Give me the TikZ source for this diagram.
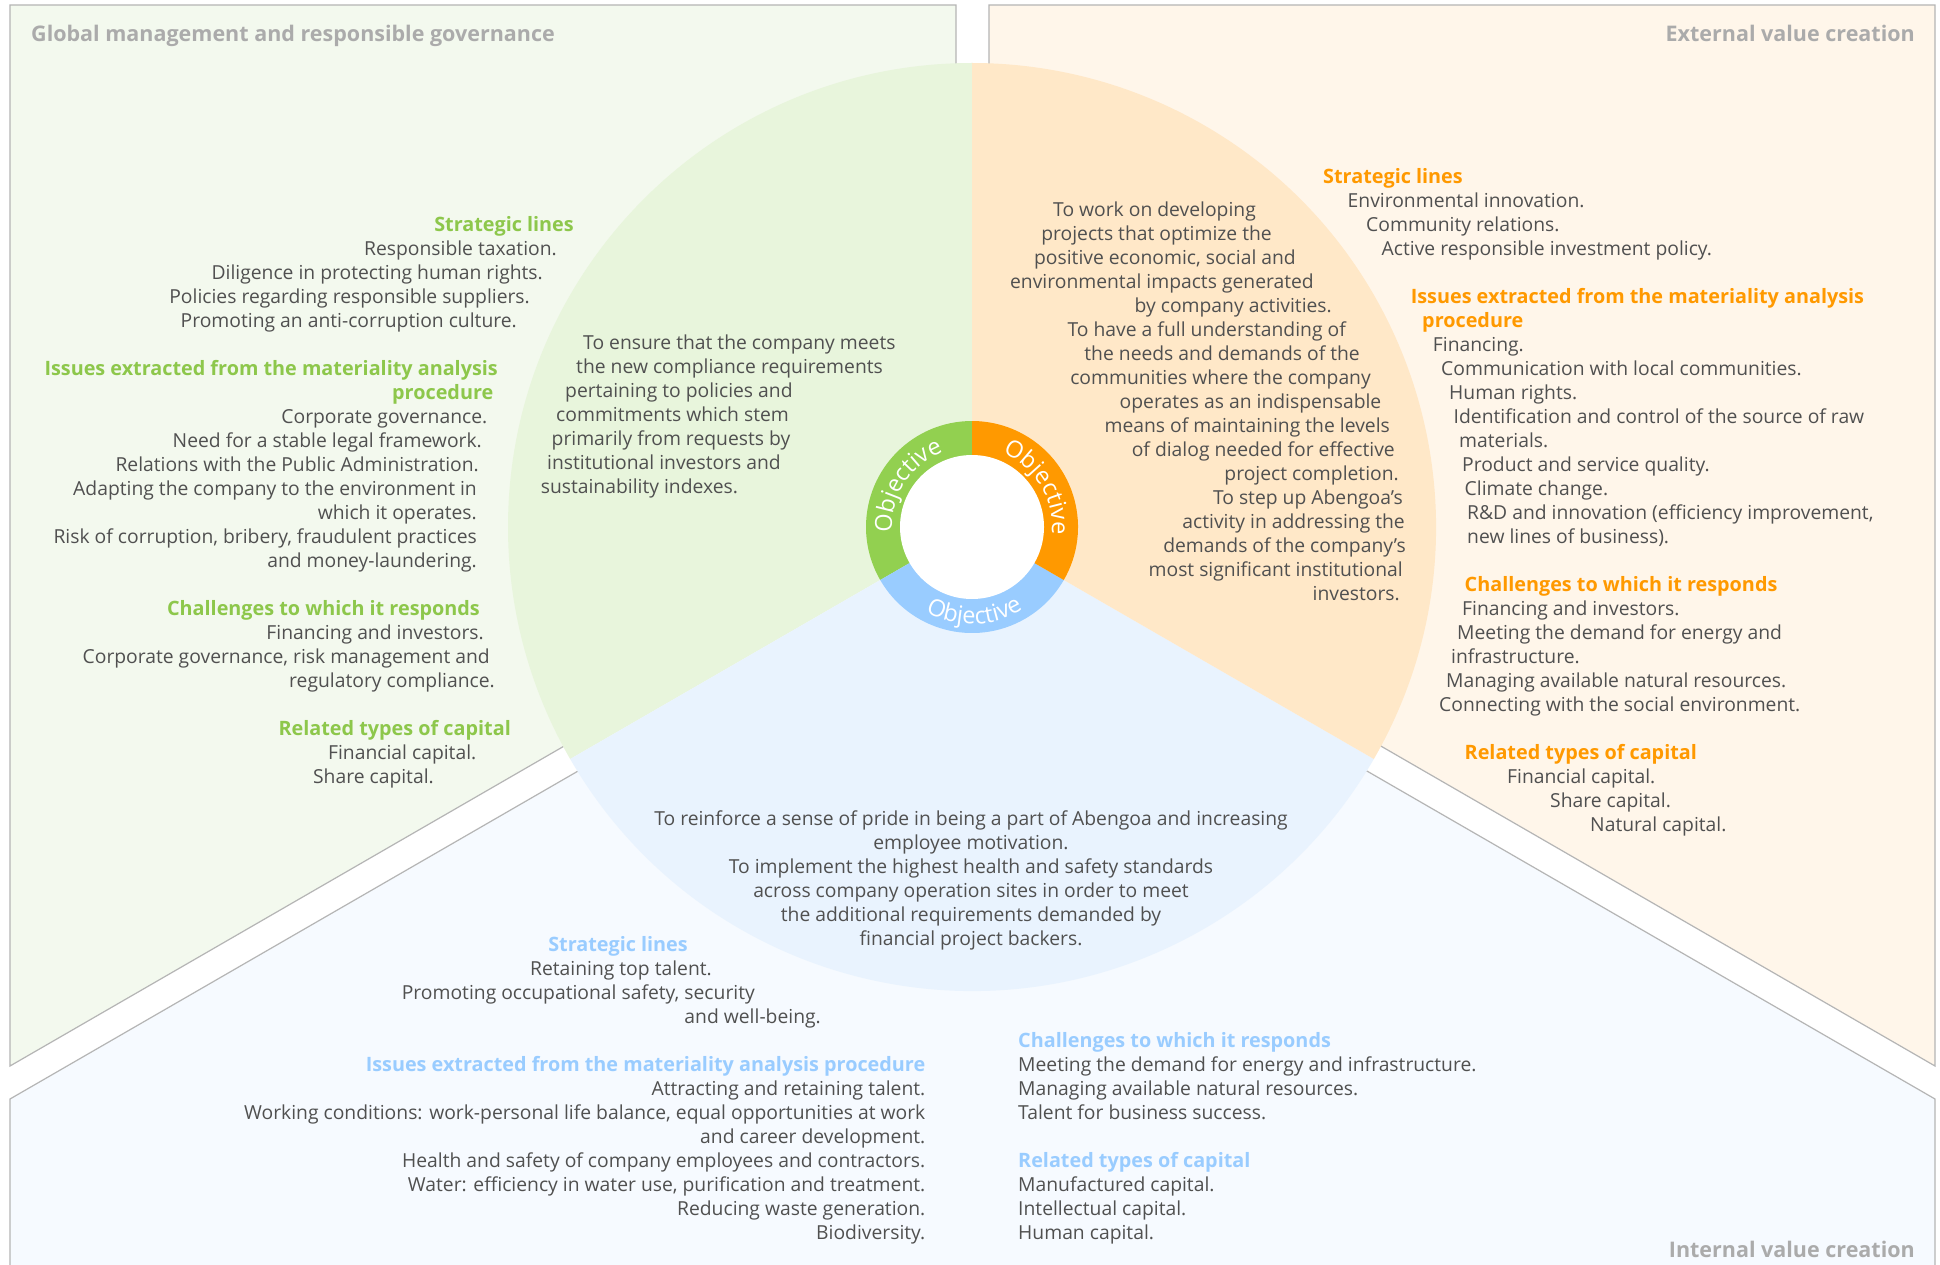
\documentclass[tikz,border=0pt]{standalone}
\usepackage{fontspec}
\setmainfont{Open Sans}
\usetikzlibrary{decorations.text}
\definecolor{txt}{HTML}{505050}
\definecolor{ttlc}{HTML}{ABABAB}
\definecolor{gH}{HTML}{8DC74B}
\definecolor{oH}{HTML}{FF9900}
\definecolor{bH}{HTML}{99CCFF}
\definecolor{gRing}{HTML}{92D050}
\definecolor{oRing}{HTML}{FF9900}
\definecolor{bRing}{HTML}{99CCFF}
\definecolor{gSec}{HTML}{E8F5DC}
\definecolor{oSec}{HTML}{FFE8C8}
\definecolor{bSec}{HTML}{E9F3FE}
\definecolor{gPan}{HTML}{F3F9EE}
\definecolor{oPan}{HTML}{FFF6EA}
\definecolor{bPan}{HTML}{F6FAFF}
\definecolor{edgec}{HTML}{B5B5B5}
\newcommand\bodyf{\fontsize{19.3}{24}\selectfont}
\newcommand\headf{\fontsize{19.8}{24}\selectfont\bfseries}
\newcommand\ttlf{\fontsize{21.5}{26}\selectfont\bfseries}
\newcommand\objf{\fontsize{23.5}{26}\selectfont}
\tikzset{
  txtbox/.style={inner sep=0pt, text height=14pt, text depth=4pt, yshift=-5pt},
  body/.style={txtbox, text=txt, font=\bodyf},
  ghead/.style={txtbox, text=gH, font=\headf},
  ohead/.style={txtbox, text=oH, font=\headf},
  bhead/.style={txtbox, text=bH, font=\headf},
  ttl/.style={inner sep=0pt, text height=16pt, text depth=5pt, yshift=-7pt, text=ttlc, font=\ttlf},
  R/.style={anchor=mid east},
  L/.style={anchor=mid west},
  C/.style={anchor=mid},
  panel/.style={draw=edgec, line width=1.2pt},
  objtext/.style={decorate, decoration={text along path, text={|\objf|Objective}, text color=white, text align=center}},
}
\begin{document}
\begin{tikzpicture}[x=1pt,y=1pt]
\useasboundingbox (0,0) rectangle (1940,-1265);
\clip (0,0) rectangle (1940,-1265);
\fill[white] (0,0) rectangle (1940,-1265);
% panels
\filldraw[panel, fill=gPan] (10,-5) -- (956,-5) -- (956,-519.8) -- (10,-1066) -- cycle;
\filldraw[panel, fill=oPan] (989,-5) -- (1935,-5) -- (1935,-1066) -- (989,-519.8) -- cycle;
\filldraw[panel, fill=bPan] (10,-1099) -- (972.5,-543.3) -- (1935,-1099) -- (1935,-1280) -- (10,-1280) -- cycle;
% big circle and ring
\begin{scope}[shift={(972,-527)}]
  \fill[gSec] (0,0) -- (90:464) arc[start angle=90, end angle=210, radius=464] -- cycle;
  \fill[bSec] (0,0) -- (210:464) arc[start angle=210, end angle=330, radius=464] -- cycle;
  \fill[oSec] (0,0) -- (330:464) arc[start angle=330, end angle=450, radius=464] -- cycle;
  \fill[gRing] (0,0) -- (90:106) arc[start angle=90, end angle=210, radius=106] -- cycle;
  \fill[bRing] (0,0) -- (210:106) arc[start angle=210, end angle=330, radius=106] -- cycle;
  \fill[oRing] (0,0) -- (330:106) arc[start angle=330, end angle=450, radius=106] -- cycle;
  \fill[white] (0,0) circle[radius=72];
  \path[objtext] (195:80) arc[start angle=195, end angle=100, radius=80];
  \path[objtext] (78:80) arc[start angle=78, end angle=-16, radius=80];
  \path[objtext] (222:97) arc[start angle=222, end angle=321, radius=97];
\end{scope}
% titles
\node[ttl,L] (t1) at (31,-32) {Global management and responsible governance};
\node[ttl,R] (t2) at (1915,-32) {External value creation};
\node[ttl,R] (t3) at (1915,-1248) {Internal value creation};
% green panel
\node[ghead,R] (g1) at (574,-224) {Strategic lines};
\node[body,R] (g2) at (557,-248) {Responsible taxation.};
\node[body,R] (g3) at (543,-272) {Diligence in protecting human rights.};
\node[body,R] (g4) at (530,-296) {Policies regarding responsible suppliers.};
\node[body,R] (g5) at (517,-320) {Promoting an anti-corruption culture.};
\node[ghead,R] (g6) at (498,-368) {Issues extracted from the materiality analysis};
\node[ghead,R] (g7) at (493.5,-392) {procedure};
\node[body,R] (g8) at (487.5,-416) {Corporate governance.};
\node[body,R] (g9) at (482,-440) {Need for a stable legal framework.};
\node[body,R] (g10) at (479,-464) {Relations with the Public Administration.};
\node[body,R] (g11) at (477,-488) {Adapting the company to the environment in};
\node[body,R] (g12) at (477,-512) {which it operates.};
\node[body,R] (g13) at (477,-536) {Risk of corruption, bribery, fraudulent practices};
\node[body,R] (g14) at (477,-560) {and money-laundering.};
\node[ghead,R] (g15) at (480,-608) {Challenges to which it responds};
\node[body,R] (g16) at (484,-632) {Financing and investors.};
\node[body,R] (g17) at (490,-656) {Corporate governance, risk management and};
\node[body,R] (g18) at (495,-680) {regulatory compliance.};
\node[ghead,R] (g19) at (511,-728) {Related types of capital};
\node[body,R] (g20) at (476.5,-752) {Financial capital.};
\node[body,R] (g21) at (434,-776) {Share capital.};
% green circle objective
\node[body,L] (gc1) at (583,-342) {To ensure that the company meets};
\node[body,L] (gc2) at (576,-366) {the new compliance requirements};
\node[body,L] (gc3) at (565,-390) {pertaining to policies and};
\node[body,L] (gc4) at (556,-414) {commitments which stem};
\node[body,L] (gc5) at (551.5,-438) {primarily from requests by};
\node[body,L] (gc6) at (547,-462) {institutional investors and};
\node[body,L] (gc7) at (540.6,-486) {sustainability indexes.};
% orange circle objective
\node[body,R] (oc1) at (1256,-209) {To work on developing};
\node[body,R] (oc2) at (1272,-233) {projects that optimize the};
\node[body,R] (oc3) at (1296,-257) {positive economic, social and};
\node[body,R] (oc4) at (1314,-281) {environmental impacts generated};
\node[body,R] (oc5) at (1332,-305) {by company activities.};
\node[body,R] (oc6) at (1346,-329) {To have a full understanding of};
\node[body,R] (oc7) at (1360,-353) {the needs and demands of the};
\node[body,R] (oc8) at (1371,-377) {communities where the company};
\node[body,R] (oc9) at (1381.5,-401) {operates as an indispensable};
\node[body,R] (oc10) at (1390,-425) {means of maintaining the levels};
\node[body,R] (oc11) at (1395,-449) {of dialog needed for effective};
\node[body,R] (oc12) at (1399,-473) {project completion.};
\node[body,R] (oc13) at (1403,-497) {To step up Abengoa’s};
\node[body,R] (oc14) at (1405,-521) {activity in addressing the};
\node[body,R] (oc15) at (1406,-545) {demands of the company’s};
\node[body,R] (oc16) at (1403,-569) {most significant institutional};
\node[body,R] (oc17) at (1400,-593) {investors.};
% orange panel
\node[ohead,L] (o1) at (1323,-176) {Strategic lines};
\node[body,L] (o2) at (1347.5,-200) {Environmental innovation.};
\node[body,L] (o3) at (1366,-224) {Community relations.};
\node[body,L] (o4) at (1381.5,-248) {Active responsible investment policy.};
\node[ohead,L] (o5) at (1410.6,-296) {Issues extracted from the materiality analysis};
\node[ohead,L] (o6) at (1422,-320) {procedure};
\node[body,L] (o7) at (1432.7,-344) {Financing.};
\node[body,L] (o8) at (1441,-368) {Communication with local communities.};
\node[body,L] (o9) at (1449,-392) {Human rights.};
\node[body,L] (o10) at (1453.5,-416) {Identification and control of the source of raw};
\node[body,L] (o11) at (1459,-440) {materials.};
\node[body,L] (o12) at (1462,-464) {Product and service quality.};
\node[body,L] (o13) at (1464.5,-488) {Climate change.};
\node[body,L] (o14) at (1467,-512) {R\&D and innovation (efficiency improvement,};
\node[body,L] (o15) at (1467,-536) {new lines of business).};
\node[ohead,L] (o16) at (1464.5,-584) {Challenges to which it responds};
\node[body,L] (o17) at (1462,-608) {Financing and investors.};
\node[body,L] (o18) at (1457,-632) {Meeting the demand for energy and};
\node[body,L] (o19) at (1451,-656) {infrastructure.};
\node[body,L] (o20) at (1446,-680) {Managing available natural resources.};
\node[body,L] (o21) at (1439,-704) {Connecting with the social environment.};
\node[ohead,L] (o22) at (1464.5,-752) {Related types of capital};
\node[body,L] (o23) at (1507,-776) {Financial capital.};
\node[body,L] (o24) at (1550,-800) {Share capital.};
\node[body,L] (o25) at (1590,-824) {Natural capital.};
% blue circle objective
\node[body,C] (bc1) at (971,-818) {To reinforce a sense of pride in being a part of Abengoa and increasing};
\node[body,C] (bc2) at (971,-842) {employee motivation.};
\node[body,C] (bc3) at (971,-866) {To implement the highest health and safety standards};
\node[body,C] (bc4) at (971,-890) {across company operation sites in order to meet};
\node[body,C] (bc5) at (971,-914) {the additional requirements demanded by};
\node[body,C] (bc6) at (971,-938) {financial project backers.};
% blue panel left
\node[bhead,R] (bl1) at (688,-944) {Strategic lines};
\node[body,R] (bl2) at (712,-968) {Retaining top talent.};
\node[body,R] (bl3) at (755,-992) {Promoting occupational safety, security};
\node[body,R] (bl4) at (821,-1016) {and well-being.};
\node[bhead,R] (bl5) at (925.5,-1064) {Issues extracted from the materiality analysis procedure};
\node[body,R] (bl6) at (925.5,-1088) {Attracting and retaining talent.};
\node[body,R] (bl7) at (925.5,-1112) {Working conditions: work-personal life balance, equal opportunities at work};
\node[body,R] (bl8) at (925.5,-1136) {and career development.};
\node[body,R] (bl9) at (925.5,-1160) {Health and safety of company employees and contractors.};
\node[body,R] (bl10) at (925.5,-1184) {Water: efficiency in water use, purification and treatment.};
\node[body,R] (bl11) at (925.5,-1208) {Reducing waste generation.};
\node[body,R] (bl12) at (925.5,-1232) {Biodiversity.};
% blue panel right
\node[bhead,L] (br1) at (1018,-1040) {Challenges to which it responds};
\node[body,L] (br2) at (1018,-1064) {Meeting the demand for energy and infrastructure.};
\node[body,L] (br3) at (1018,-1088) {Managing available natural resources.};
\node[body,L] (br4) at (1018,-1112) {Talent for business success.};
\node[bhead,L] (br5) at (1018,-1160) {Related types of capital};
\node[body,L] (br6) at (1018,-1184) {Manufactured capital.};
\node[body,L] (br7) at (1018,-1208) {Intellectual capital.};
\node[body,L] (br8) at (1018,-1232) {Human capital.};
\end{tikzpicture}
\end{document}
